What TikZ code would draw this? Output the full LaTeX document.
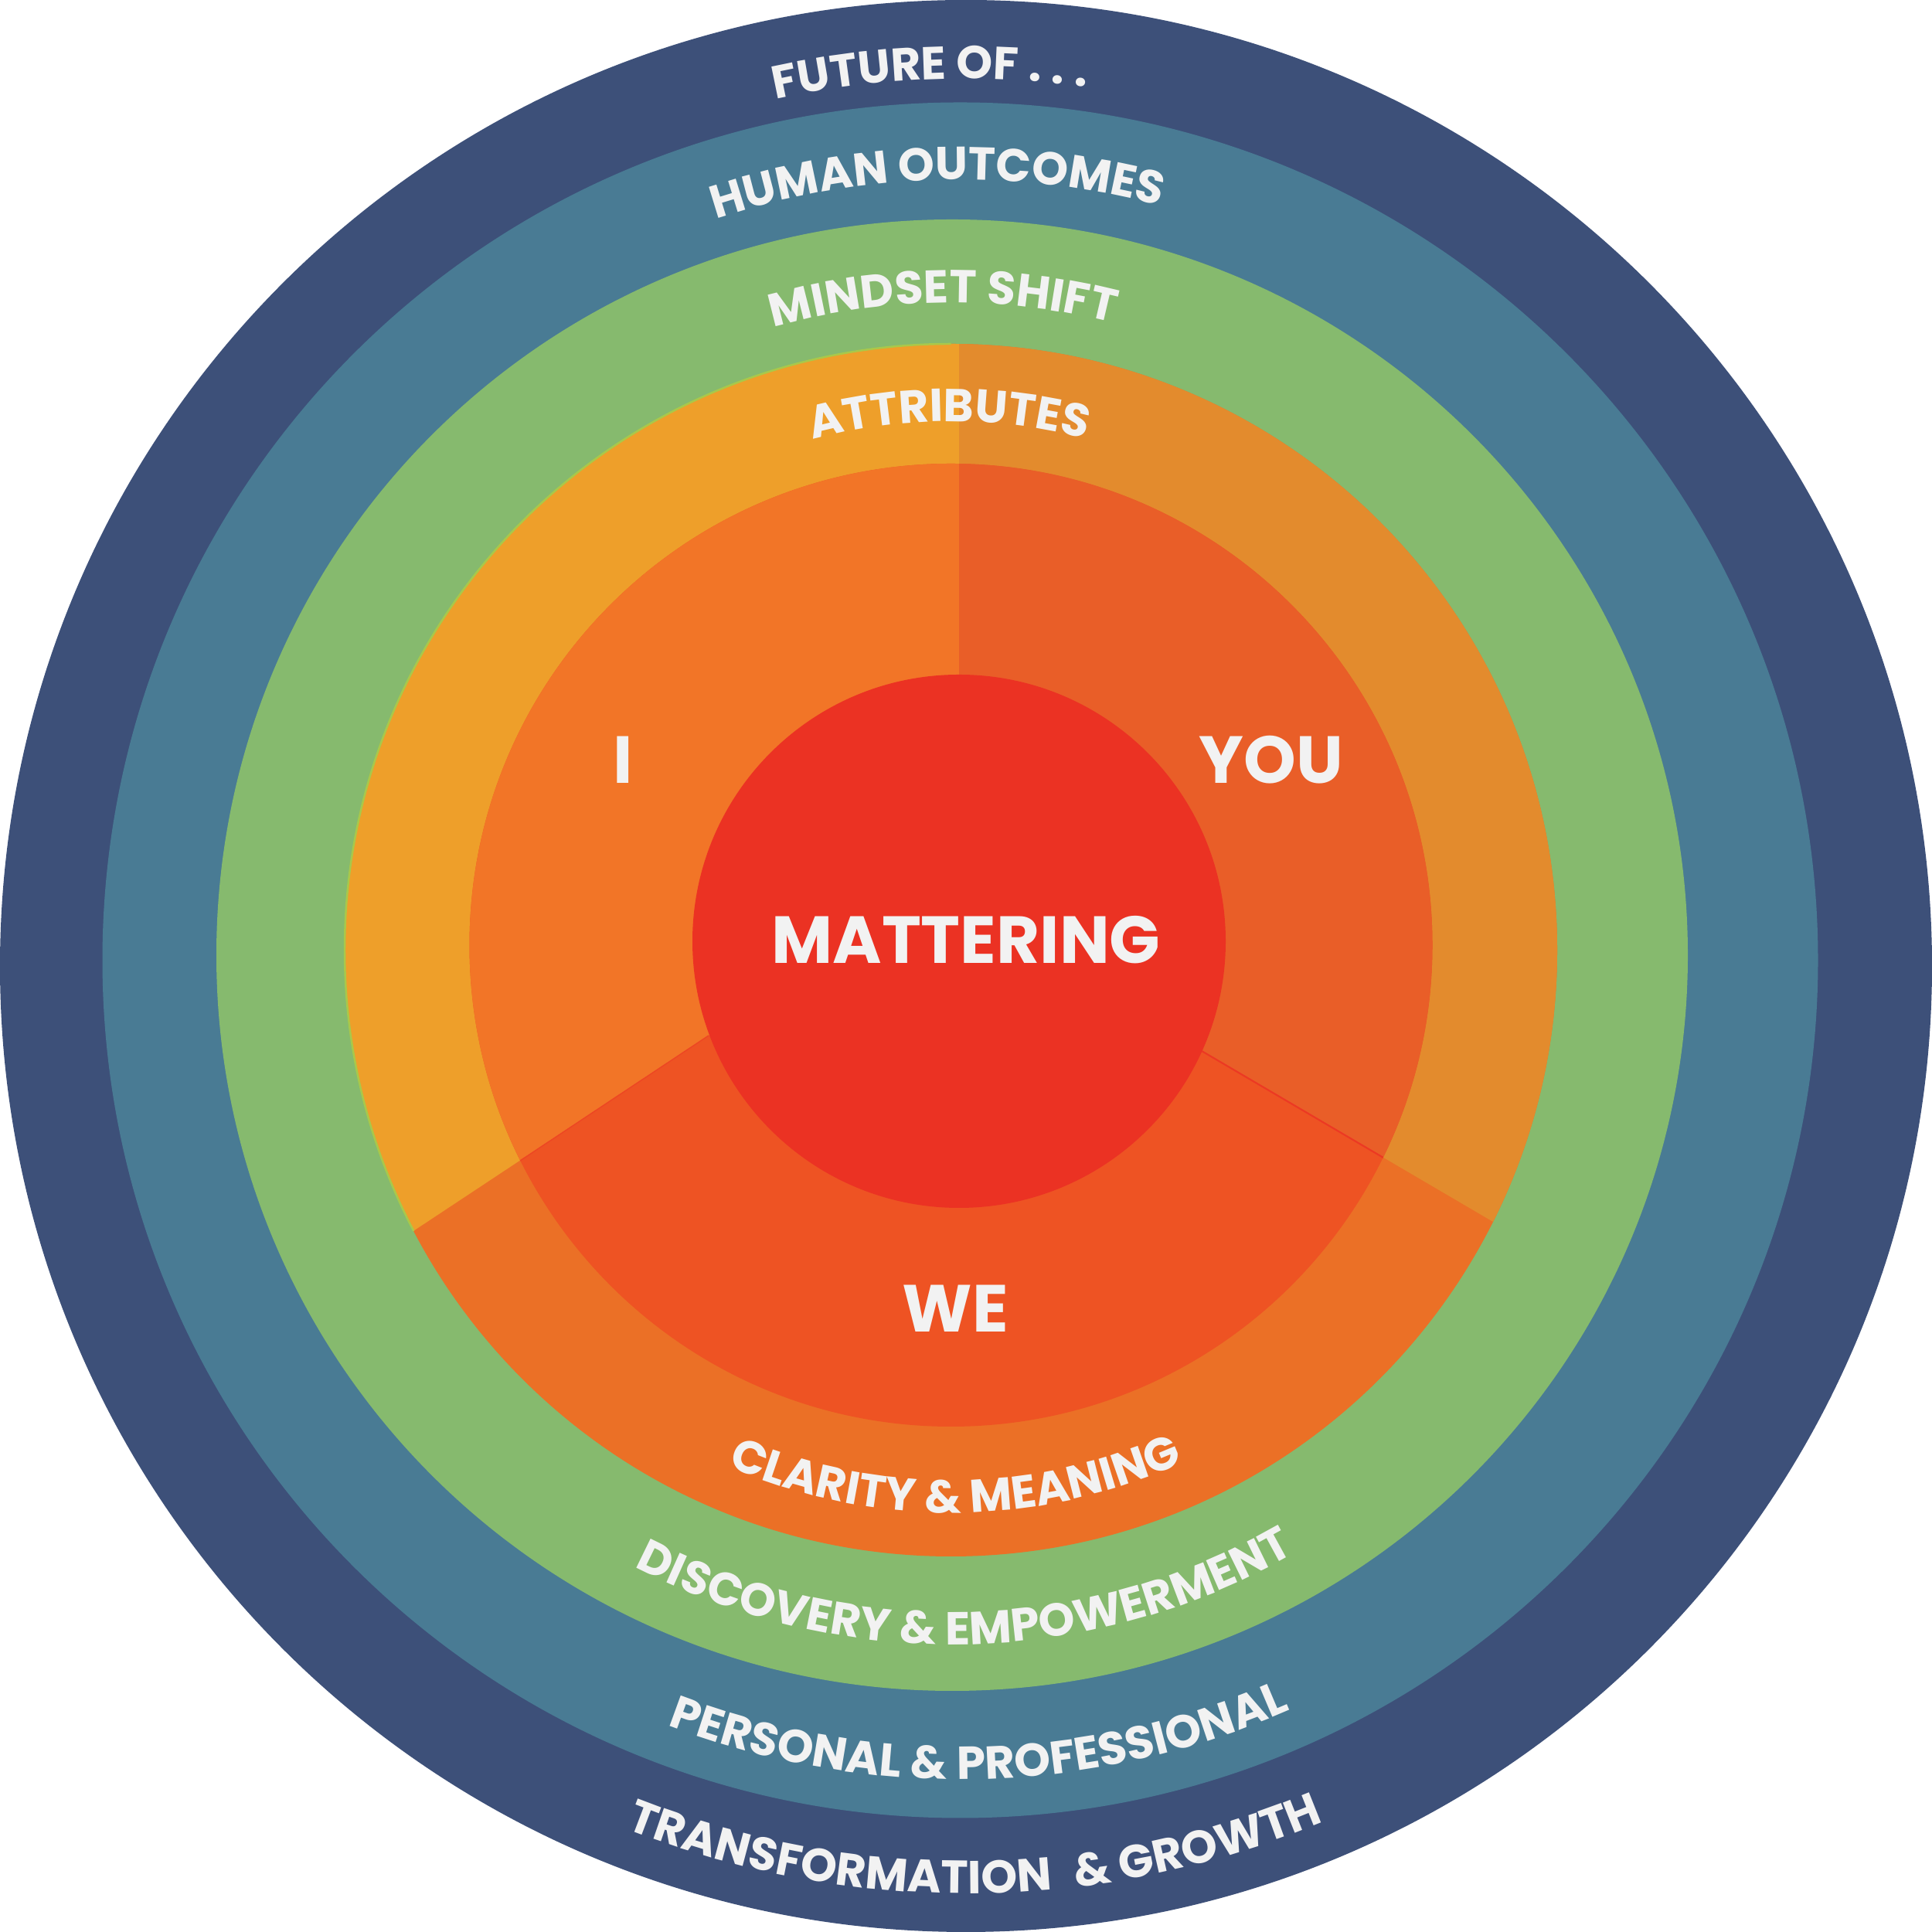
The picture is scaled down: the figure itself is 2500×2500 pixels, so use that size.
\documentclass[tikz,border=0pt]{standalone}
\usepackage{fontspec}
\newfontfamily\pop{Poppins}
\usetikzlibrary{decorations.text}
\definecolor{navy}{HTML}{3D5079}
\definecolor{tealring}{HTML}{497B94}
\definecolor{grn}{HTML}{86BA6E}
\definecolor{attrI}{HTML}{EE9F2A}
\definecolor{attrYOU}{HTML}{E38B2D}
\definecolor{attrWE}{HTML}{EB7026}
\definecolor{innI}{HTML}{F27527}
\definecolor{innYOU}{HTML}{E95E28}
\definecolor{innWE}{HTML}{EE5323}
\definecolor{core}{HTML}{EB3223}
\definecolor{txt}{HTML}{F2F2F2}
\definecolor{limeline}{HTML}{A9C84A}
\newcommand\ringfmt{\pop\bfseries\fontsize{17}{20}\selectfont\color{txt}}
\newcommand\bigfmt{\pop\bfseries\fontsize{24.5}{28}\selectfont}
\tikzset{
  ringlabel/.style={decorate, decoration={text along path, text align=center, text={|\ringfmt|#1}}},
  biglabel/.style={font=\bigfmt, text=txt, inner sep=0pt}
}
\begin{document}
\begin{tikzpicture}[x=0.01cm,y=0.01cm]
\useasboundingbox (0,0) rectangle (2500,2500);
% rings
\fill[navy] (1250,1250) circle (1250);
\fill[tealring] (1242.5,1257.5) circle (1110);
\fill[grn] (1232,1264) circle (952);
% attributes ring
\fill[attrWE] (1230.5,1270.5) circle (784.5);
\begin{scope}
  \clip (1230.5,1270.5) circle (784.5);
  \fill[attrI] (1241,2500) -- (1241,1282) -- (917,1160) -- (0,553) -- (0,2500) -- cycle;
  \fill[attrYOU] (1241,2500) -- (1241,1282) -- (1555,1140) -- (2500,586) -- (2500,2500) -- cycle;
\end{scope}
\draw[limeline, line width=0.7pt] ([shift={(90:784.5)}]1230.5,1270.5) arc (90:207.6:784.5);
% inner ring
\fill[innWE] (1230.5,1277) circle (623);
\begin{scope}
  \clip (1230.5,1277) circle (623);
  \fill[innI] (1241,2500) -- (1241,1282) -- (917,1160) -- (0,553) -- (0,2500) -- cycle;
  \fill[innYOU] (1241,2500) -- (1241,1282) -- (1555,1140) -- (2500,586) -- (2500,2500) -- cycle;
  \draw[core!80!innWE, line width=0.6pt] (1555,1140) -- (1790,1002);
  \draw[core!40!innWE, line width=0.4pt] (917,1160) -- (673,998);
\end{scope}
% core
\fill[core] (1241,1282) circle (345);
% centre labels
\node[biglabel] (mat) at (1250,1284) {MATTERING};
\node[biglabel] (li) at (806,1517) {I};
\node[biglabel] (lyou) at (1645,1517) {YOU};
\node[biglabel] (lwe) at (1236,807) {WE};
% top ring labels
\path[ringlabel={FUTURE OF . . .}] ([shift={(162.3:1148)}]1250,1250) arc (162.3:22.3:1148);
\path[ringlabel={HUMAN OUTCOMES}] ([shift={(161.7:1010)}]1242.5,1257.5) arc (161.7:21.7:1010);
\path[ringlabel={MINDSET SHIFT}] ([shift={(160.8:844)}]1232,1264) arc (160.8:20.8:844);
\path[ringlabel={ATTRIBUTES}] ([shift={(160.2:684)}]1230.5,1270.5) arc (160.2:20.2:684);
% bottom ring labels
\path[ringlabel={CLARITY {\&} MEANING}] ([shift={(200.5:728)}]1230.5,1270.5) arc (200.5:340.5:728);
\path[ringlabel={DISCOVERY {\&} EMPOWERMENT}] ([shift={(201.2:892)}]1232,1264) arc (201.2:341.2:892);
\path[ringlabel={PERSONAL {\&} PROFESSIONAL}] ([shift={(201.4:1060)}]1242.5,1257.5) arc (201.4:341.4:1060);
\path[ringlabel={TRANSFORMATION {\kern5pt}{\&} GROWTH}] ([shift={(200.6:1200)}]1250,1250) arc (200.6:340.6:1200);
\end{tikzpicture}
\end{document}
